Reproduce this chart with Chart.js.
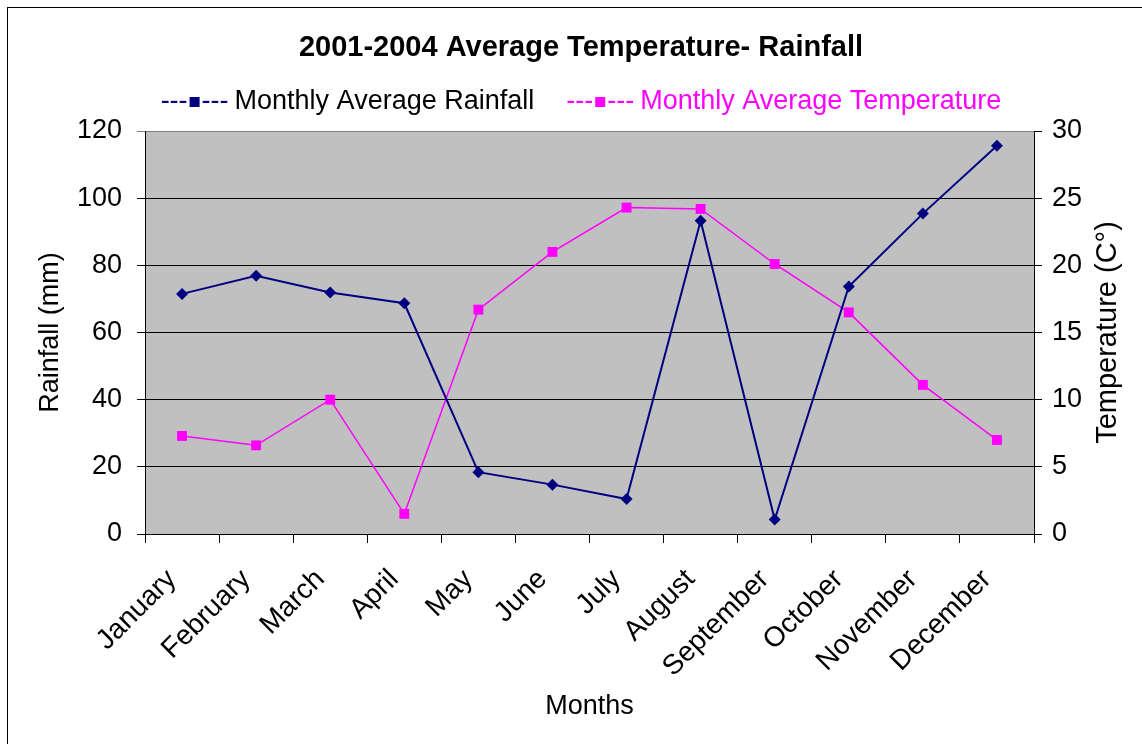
<!DOCTYPE html>
<html>
<head>
<meta charset="utf-8">
<title>2001-2004 Average Temperature- Rainfall</title>
<script src="https://cdn.jsdelivr.net/npm/chart.js@4.4.1/dist/chart.umd.min.js"></script>
<style>
  html, body { margin: 0; padding: 0; background: #fff; }
  canvas { display: block; }
</style>
</head>
<body>
<canvas id="rainChart" width="1142" height="744"></canvas>
<script>
'use strict';

// ── DATA ──
const MONTHS = ['January', 'February', 'March', 'April', 'May', 'June',
                'July', 'August', 'September', 'October', 'November', 'December'];
const RAINFALL    = [71.5, 76.9, 71.9, 68.7, 18.4, 14.7, 10.4, 93.3, 4.3, 73.7, 95.4, 115.6];
const TEMPERATURE = [7.3, 6.6, 10.0, 1.5, 16.7, 21.0, 24.3, 24.2, 20.1, 16.5, 11.1, 7.0];

const RAIN_AXIS = { min: 0, max: 120, step: 20 };
const TEMP_AXIS = { min: 0, max: 30,  step: 5 };

const TITLE       = '2001-2004 Average Temperature- Rainfall';
const RAIN_LABEL  = 'Monthly Average Rainfall';
const TEMP_LABEL  = 'Monthly Average Temperature';

// ── STYLE ──
const FONT     = '"Liberation Sans", Arial, sans-serif';
const NAVY     = '#000080';
const MAGENTA  = '#ff00ff';
const PLOT_BG  = '#c0c0c0';
const CENTER_X = 581;

Chart.defaults.color = '#000';
Chart.defaults.font.family = FONT;
Chart.defaults.font.size = 27;

// ── FRAME / TITLE / LEGEND (drawn by hand, Excel style) ──
const framePlugin = {
  id: 'frame',
  beforeDraw(chart) {
    const { ctx, chartArea: a } = chart;
    ctx.save();
    ctx.fillStyle = '#fff';
    ctx.fillRect(0, 0, chart.width, chart.height);
    ctx.fillStyle = PLOT_BG;
    ctx.fillRect(a.left, a.top, a.right - a.left, a.bottom - a.top);
    ctx.restore();
  },
  afterDraw(chart) {
    const { ctx, chartArea: a } = chart;
    ctx.save();

    // outer border
    ctx.strokeStyle = '#000';
    ctx.lineWidth = 1;
    ctx.strokeRect(7.5, 7.5, chart.width + 40, chart.height + 40);

    // title
    ctx.fillStyle = '#000';
    ctx.textAlign = 'center';
    ctx.textBaseline = 'middle';
    ctx.font = 'bold 29px ' + FONT;
    ctx.fillText(TITLE, CENTER_X, 48);

    // legend
    ctx.font = '27px ' + FONT;
    ctx.textAlign = 'left';
    const items = [
      { color: NAVY,    textColor: '#000',  text: RAIN_LABEL },
      { color: MAGENTA, textColor: MAGENTA, text: TEMP_LABEL },
    ];
    const dashW = ctx.measureText('---').width;
    const markW = dashW * 2 + 14;
    const gap   = 32;
    const widths = items.map(it => markW + 6 + ctx.measureText(it.text).width);
    let x = CENTER_X - (widths[0] + widths[1] + gap) / 2;
    const ly = 102;
    items.forEach((it, i) => {
      ctx.fillStyle = it.color;
      ctx.fillText('---', x, ly);
      ctx.fillRect(x + dashW + 2, ly - 5, 10, 10);
      ctx.fillText('---', x + dashW + 14, ly);
      ctx.fillStyle = it.textColor;
      ctx.fillText(it.text, x + markW + 6, ly);
      x += widths[i] + gap;
    });

    // right axis title, reading bottom to top
    ctx.fillStyle = '#000';
    ctx.textAlign = 'center';
    ctx.font = '29px ' + FONT;
    ctx.translate(1108, (a.top + a.bottom) / 2);
    ctx.rotate(-Math.PI / 2);
    ctx.fillText('Temperature (C°)', 0, 0);

    ctx.restore();
  }
};

// ── CHART ──
const ctx = document.getElementById('rainChart').getContext('2d');
new Chart(ctx, {
  type: 'line',
  data: {
    labels: MONTHS,
    datasets: [
      {
        label: RAIN_LABEL,
        data: RAINFALL,
        yAxisID: 'y',
        borderColor: NAVY,
        backgroundColor: NAVY,
        borderWidth: 2,
        pointStyle: 'rectRot',
        pointRadius: 6,
        pointBorderWidth: 0,
        tension: 0,
      },
      {
        label: TEMP_LABEL,
        data: TEMPERATURE,
        yAxisID: 'y1',
        borderColor: MAGENTA,
        backgroundColor: MAGENTA,
        borderWidth: 1.5,
        pointStyle: 'rect',
        pointRadius: 7,
        pointBorderWidth: 0,
        tension: 0,
      }
    ]
  },
  options: {
    responsive: false,
    animation: false,
    layout: { padding: { top: 131, left: 0, right: 0, bottom: 0 } },
    plugins: {
      legend: { display: false },
      title:  { display: false },
      tooltip: { enabled: false },
    },
    scales: {
      x: {
        offset: true,
        grid: { offset: true, drawOnChartArea: false, color: '#000', tickLength: 9 },
        border: { color: '#000' },
        ticks: { minRotation: 45, maxRotation: 45, padding: 20, labelOffset: -10, font: { size: 28 } },
        title: { display: true, text: 'Months', font: { size: 27 }, padding: { bottom: 21 } },
        afterFit: s => { s.height = 744 - 534; },
      },
      y: {
        position: 'left',
        min: RAIN_AXIS.min, max: RAIN_AXIS.max,
        grid: {
          color: c => c.tick && c.tick.value === RAIN_AXIS.max ? '#808080' : '#000',
          tickLength: 8,
        },
        border: { color: '#000' },
        ticks: { stepSize: RAIN_AXIS.step, padding: 15, font: { size: 27 } },
        title: { display: true, text: 'Rainfall (mm)', font: { size: 27 }, padding: { top: 34 } },
        afterFit: s => { s.width = 145; },
      },
      y1: {
        position: 'right',
        min: TEMP_AXIS.min, max: TEMP_AXIS.max,
        grid: { drawOnChartArea: false, color: '#000', tickLength: 8 },
        border: { color: '#000' },
        ticks: { stepSize: TEMP_AXIS.step, padding: 10, font: { size: 27 } },
        afterFit: s => { s.width = 1142 - 1034; },
      }
    }
  },
  plugins: [framePlugin]
});
</script>
</body>
</html>
